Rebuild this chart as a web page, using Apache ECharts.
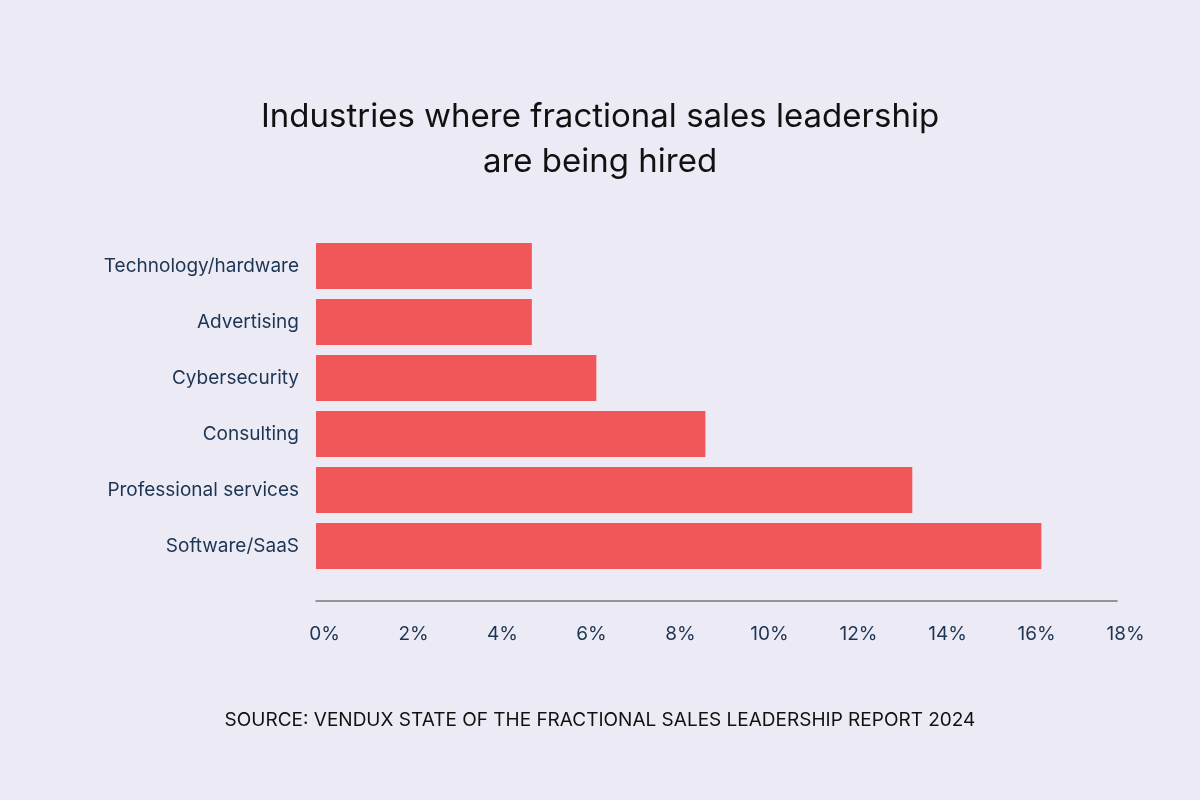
<!DOCTYPE html>
<html>
<head>
<meta charset="utf-8">
<script src="https://cdn.jsdelivr.net/npm/echarts@6/dist/echarts.min.js"></script>
<style>
html, body { margin: 0; padding: 0; background: #ecebf5; }
#chart { width: 1200px; height: 800px; }
</style>
</head>
<body>
<div id="chart"></div>
<script>
// data, top to bottom in the chart
const industries = ['Technology/hardware', 'Advertising', 'Cybersecurity', 'Consulting', 'Professional services', 'Software/SaaS']
const shares = [4.85, 4.85, 6.3, 8.75, 13.4, 16.3]
const titleText = 'Industries where fractional sales leadership\nare being hired'
const sourceText = 'SOURCE: VENDUX STATE OF THE FRACTIONAL SALES LEADERSHIP REPORT 2024'

const textColor = '#1d3553'
const chart = echarts.init(document.getElementById('chart'))

chart.setOption({
    backgroundColor: '#ecebf5',
    textStyle: { fontFamily: 'Inter, Lato, sans-serif' },
    title: [{
        text: titleText,
        left: 'center',
        top: 90,
        textStyle: { color: '#111', fontSize: 33, fontWeight: 'normal', lineHeight: 45 }
    }, {
        text: sourceText,
        left: 'center',
        top: 706,
        textStyle: { color: '#111', fontSize: 19, fontWeight: 'normal' }
    }],
    grid: {
        left: 316,
        right: 83,
        top: 238,
        bottom: 226
    },
    xAxis: {
        type: 'value',
        min: 0,
        max: 18,
        interval: 2,
        offset: 27,
        axisLine: { show: true, lineStyle: { color: '#777', width: 1.5 } },
        axisTick: { show: false },
        splitLine: { show: false },
        axisLabel: {
            color: textColor,
            fontSize: 19,
            margin: 24,
            padding: [0, 0, 0, 17],
            formatter: v => v + '%'
        }
    },
    yAxis: {
        type: 'category',
        inverse: true,
        data: industries,
        axisLine: { show: false },
        axisTick: { show: false },
        axisLabel: { color: textColor, fontSize: 19, margin: 17 }
    },
    series: [{
        type: 'bar',
        data: shares,
        barWidth: 46,
        itemStyle: { color: '#f15758' }
    }]
})
</script>
</body>
</html>
